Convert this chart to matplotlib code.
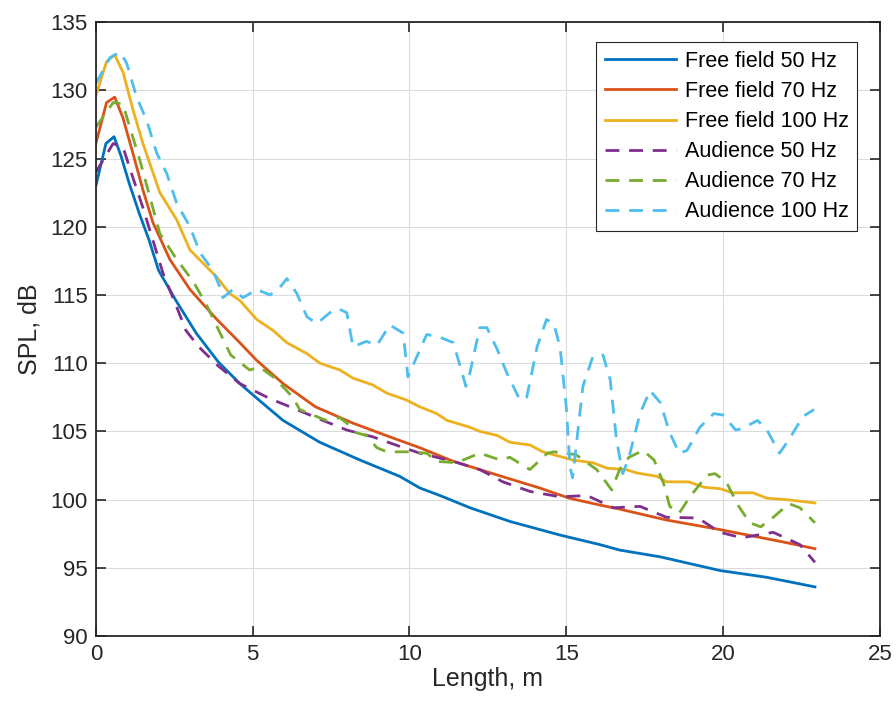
import matplotlib
matplotlib.use('Agg')
import matplotlib.pyplot as plt

plt.rcParams['font.family'] = ['Liberation Sans', 'DejaVu Sans']
plt.rcParams['font.size'] = 16

# Free field 50 Hz
ff50_x = [0, 0.32, 0.58, 0.8, 1.06, 1.38, 1.7, 2.0, 2.55, 3.2, 3.9, 4.59, 5.3, 5.97, 7.14,
          8.42, 9.69, 10.33, 10.97, 11.93, 13.2, 14.8, 16.07, 16.7, 18.0, 19.9, 21.4, 22.93]
ff50_y = [123.0, 126.1, 126.6, 125.2, 123.2, 121.0, 119.0, 116.8, 114.6, 112.2, 110.1, 108.5,
          107.1, 105.8, 104.2, 102.9, 101.7, 100.85, 100.3, 99.4, 98.4, 97.4, 96.7, 96.3, 95.8,
          94.8, 94.3, 93.6]

# Free field 70 Hz
ff70_x = [0, 0.34, 0.6, 0.86, 1.18, 1.5, 1.82, 2.36, 3.0, 3.86, 4.59, 5.13, 5.97, 7.0, 8.2,
          9.37, 10.33, 11.4, 12.8, 14.15, 15.1, 16.07, 16.7, 18.2, 19.9, 21.9, 22.93]
ff70_y = [126.1, 129.1, 129.5, 128.0, 125.4, 122.7, 120.3, 117.6, 115.4, 113.2, 111.5, 110.2,
          108.5, 106.8, 105.6, 104.6, 103.8, 102.8, 101.8, 100.85, 100.1, 99.6, 99.3, 98.5,
          97.8, 96.9, 96.4]

# Free field 100 Hz
ff100_x = [0, 0.34, 0.6, 0.87, 1.18, 1.5, 2.04, 2.58, 3.0, 3.86, 4.27, 4.59, 5.13, 5.65, 6.09,
           6.73, 7.14, 7.78, 8.2, 8.83, 9.28, 9.9, 10.33, 10.87, 11.2, 11.93, 12.24, 12.8, 13.2,
           13.84, 14.25, 14.9, 15.2, 15.85, 16.3, 16.9, 17.25, 17.9, 18.2, 18.9, 19.4, 19.9,
           20.3, 20.95, 21.4, 22.0, 22.93]
ff100_y = [129.6, 132.1, 132.6, 131.3, 128.6, 126.1, 122.5, 120.5, 118.3, 116.3, 115.1, 114.6,
           113.2, 112.4, 111.5, 110.7, 110.0, 109.5, 108.9, 108.4, 107.8, 107.3, 106.8, 106.3,
           105.8, 105.3, 105.0, 104.7, 104.2, 104.0, 103.5, 103.1, 102.9, 102.7, 102.3, 102.2,
           101.95, 101.7, 101.3, 101.3, 100.9, 100.8, 100.5, 100.5, 100.1, 100.0, 99.75]

# Audience 50 Hz
au50_x = [0, 0.55, 0.87, 1.18, 1.5, 1.82, 2.14, 2.58, 2.87, 3.28, 3.9, 4.59, 5.55, 6.4, 7.24,
          8.0, 8.83, 9.69, 10.33, 11.4, 12.24, 12.98, 13.84, 14.8, 15.66, 16.5, 17.35, 18.2,
          19.2, 19.9, 20.6, 21.6, 22.45, 22.93]
au50_y = [124.0, 126.1, 125.8, 123.6, 121.4, 119.0, 116.6, 114.1, 112.4, 111.2, 109.8, 108.5,
          107.4, 106.6, 105.8, 105.1, 104.6, 103.9, 103.4, 102.8, 102.2, 101.3, 100.6, 100.2,
          100.3, 99.4, 99.5, 98.7, 98.65, 97.6, 97.2, 97.6, 96.7, 95.4]

# Audience 70 Hz
au70_x = [0, 0.55, 0.86, 1.08, 1.4, 1.72, 2.04, 2.58, 3.1, 3.5, 3.92, 4.3, 4.9, 5.23, 5.65,
          5.87, 6.28, 6.5, 6.92, 7.35, 7.78, 8.0, 8.3, 8.63, 8.96, 9.28, 9.9, 10.55, 10.87,
          11.5, 12.24, 12.9, 13.2, 13.84, 14.4, 14.6, 15.3, 15.97, 16.45, 16.7, 17.0, 17.45,
          17.8, 18.1, 18.3, 18.6, 18.94, 19.5, 19.74, 20.1, 20.5, 20.85, 21.2, 21.6, 22.1,
          22.45, 22.93]
au70_y = [127.3, 129.1, 129.0, 127.3, 124.9, 122.2, 119.5, 117.6, 116.0, 114.4, 112.4, 110.6,
          109.5, 109.7, 109.0, 108.5, 107.5, 106.6, 106.2, 105.8, 106.0, 105.6, 104.9, 104.7,
          103.8, 103.5, 103.5, 103.4, 102.8, 102.7, 103.4, 102.9, 103.1, 102.2, 103.4, 103.5,
          103.3, 102.2, 100.7, 102.2, 103.1, 103.6, 102.9, 101.2, 99.5, 99.0, 100.2, 101.8,
          101.9, 101.3, 99.5, 98.3, 98.0, 98.7, 99.7, 99.4, 98.3]

# Audience 100 Hz
au100_x = [0, 0.45, 0.77, 0.98, 1.3, 1.62, 1.94, 2.26, 2.58, 3.0, 3.32, 3.73, 3.95, 4.05, 4.37,
           4.69, 5.13, 5.55, 5.85, 6.09, 6.41, 6.73, 7.05, 7.46, 7.73, 8.0, 8.2, 8.63, 8.96,
           9.37, 9.8, 9.95, 10.24, 10.55, 10.97, 11.4, 11.8, 11.93, 12.24, 12.47, 12.8, 13.1,
           13.52, 13.74, 14.07, 14.37, 14.6, 14.8, 15.0, 15.12, 15.2, 15.34, 15.53, 15.85,
           16.17, 16.4, 16.6, 16.8, 17.0, 17.35, 17.67, 18.0, 18.3, 18.6, 18.85, 19.26, 19.7,
           20.0, 20.4, 20.6, 21.1, 21.4, 21.8, 22.1, 22.55, 22.9]
au100_y = [130.5, 132.4, 132.8, 132.0, 129.5, 127.8, 125.4, 123.9, 121.7, 120.0, 118.1, 116.8,
           115.6, 114.8, 115.4, 114.8, 115.4, 115.0, 115.5, 116.2, 115.1, 113.4, 112.9, 113.7,
           114.0, 113.7, 111.2, 111.6, 111.3, 112.8, 112.2, 109.0, 110.5, 112.1, 111.9, 111.5,
           108.3, 109.3, 112.6, 112.6, 111.0, 109.3, 107.3, 107.5, 111.2, 113.2, 112.9, 111.2,
           106.8, 102.4, 101.6, 104.4, 108.3, 110.5, 110.6, 108.8, 104.4, 101.9, 103.1, 106.3,
           108.0, 107.1, 104.9, 103.4, 103.6, 105.3, 106.3, 106.2, 105.1, 105.2, 105.8, 105.1,
           103.4, 104.4, 106.1, 106.6]

fig = plt.figure(figsize=(8.96, 7.13), dpi=100)
ax = fig.add_axes([0.107, 0.108, 0.875, 0.861])

lw = 2.0
dash = (5, 3.5)
ax.plot(ff50_x, ff50_y, color='#0072BD', lw=lw, label='Free field 50 Hz')
ax.plot(ff70_x, ff70_y, color='#D95319', lw=lw, label='Free field 70 Hz')
ax.plot(ff100_x, ff100_y, color='#EDB120', lw=lw, label='Free field 100 Hz')
ax.plot(au50_x, au50_y, color='#7E2F8E', lw=lw, ls='--', dashes=dash, label='Audience 50 Hz')
ax.plot(au70_x, au70_y, color='#77AC30', lw=lw, ls='--', dashes=dash, label='Audience 70 Hz')
ax.plot(au100_x, au100_y, color='#4DBEEE', lw=lw, ls='--', dashes=dash, label='Audience 100 Hz')

ax.set_xlim(0, 25)
ax.set_ylim(90, 135)
ax.set_xticks([0, 5, 10, 15, 20, 25])
ax.set_yticks(range(90, 136, 5))
ax.grid(True, color='#dcdcdc', lw=0.8)
ax.set_axisbelow(True)
ax.tick_params(direction='in', length=7, width=1.2, top=True, right=True,
               colors='#262626', labelsize=16, pad=6)
for s in ax.spines.values():
    s.set_color('#262626')
    s.set_linewidth(1.3)

ax.set_xlabel('Length, m', fontsize=18, color='#262626', labelpad=1)
ax.set_ylabel('SPL, dB', fontsize=18, color='#262626', labelpad=6)

leg = ax.legend(loc='upper right', bbox_to_anchor=(0.971, 0.967), borderaxespad=0,
                fontsize=15.5, handlelength=3.3, handletextpad=0.4, labelspacing=0.42,
                borderpad=0.4, fancybox=False, framealpha=1, edgecolor='#262626')
leg.get_frame().set_linewidth(0.8)

fig.savefig('out.png', dpi=100)
